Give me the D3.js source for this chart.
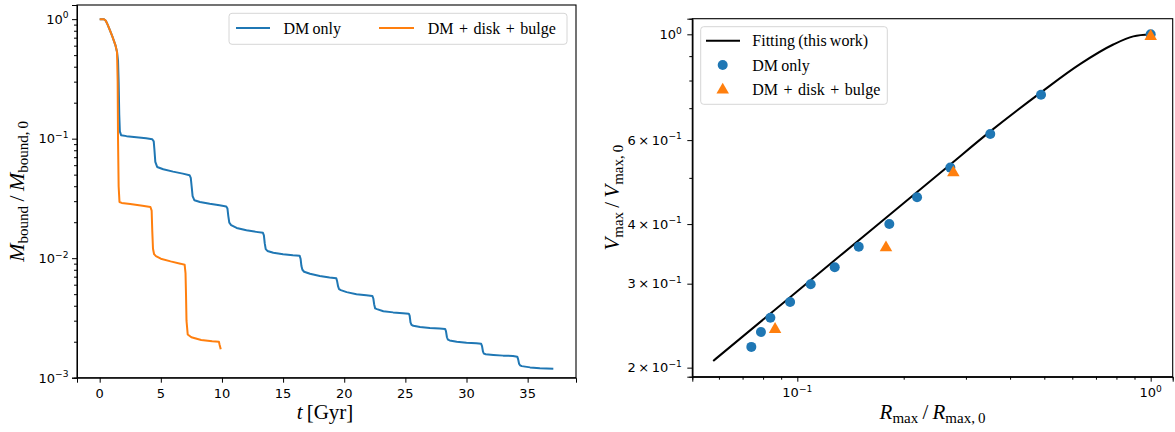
<!DOCTYPE html>
<html><head><meta charset="utf-8">
<script src="https://cdn.jsdelivr.net/npm/d3@7"></script>
<style>body{margin:0;background:#fff}svg{display:block}</style>
</head><body>
<script>
// ---------- DATA ----------
// Left panel: bound mass fraction vs time
const tDM = [0,0.35,0.5,0.65,0.85,1.05,1.3,1.42,1.5,1.55,1.6,1.65,1.75,2.2,3.0,3.8,4.3,4.42,4.48,4.55,4.7,5.2,6.0,6.8,7.35,7.45,7.52,7.6,7.75,8.2,9.0,9.8,10.35,10.45,10.52,10.6,10.75,11.2,12.0,12.8,13.35,13.43,13.5,13.58,13.72,14.2,15.0,15.8,16.35,16.43,16.5,16.58,16.72,17.2,18.0,18.8,19.35,19.42,19.5,19.58,19.72,20.2,21.0,21.8,22.3,22.38,22.45,22.53,22.68,23.2,24.0,24.8,25.28,25.35,25.42,25.5,25.65,26.2,27.0,27.8,28.25,28.32,28.4,28.48,28.62,29.2,30.0,30.8,31.2,31.27,31.35,31.42,31.57,32.2,33.0,33.8,34.15,34.22,34.3,34.38,34.52,35.2,36.0,37.1];
const mDM = [1,1,0.97,0.9,0.8,0.71,0.6,0.53,0.45,0.3,0.16,0.115,0.107,0.105,0.103,0.101,0.099,0.095,0.08,0.064,0.058,0.0555,0.053,0.051,0.0495,0.047,0.04,0.033,0.0305,0.0295,0.0285,0.0277,0.0271,0.026,0.0225,0.0198,0.0189,0.0179,0.0171,0.0166,0.0163,0.0155,0.0133,0.0119,0.0115,0.0111,0.0108,0.0106,0.0105,0.0099,0.0086,0.0080,0.0077,0.0074,0.0071,0.0069,0.0068,0.0064,0.0058,0.0055,0.0054,0.0052,0.0050,0.0049,0.00483,0.0046,0.0041,0.0038,0.00375,0.0036,0.00352,0.00346,0.00343,0.0033,0.0029,0.00277,0.00272,0.00266,0.00261,0.00258,0.00256,0.00245,0.00218,0.00208,0.00205,0.002,0.00196,0.00194,0.00192,0.00184,0.00165,0.00159,0.00157,0.00155,0.00153,0.00152,0.0015,0.00143,0.00131,0.00127,0.00125,0.00122,0.0012,0.00119];
const tBary = [0,0.35,0.5,0.65,0.85,1.05,1.3,1.42,1.47,1.5,1.55,1.62,1.8,2.5,3.5,4.15,4.25,4.3,4.36,4.45,4.6,5.0,5.8,6.6,6.95,7.02,7.06,7.1,7.2,7.5,8.3,9.2,9.75,9.8,9.86,9.9];
const mBary = [1,1,0.97,0.9,0.8,0.71,0.6,0.53,0.3,0.1,0.04,0.0295,0.029,0.0284,0.0275,0.0268,0.025,0.017,0.012,0.0108,0.0104,0.0099,0.0094,0.009,0.0088,0.0075,0.005,0.003,0.0023,0.00218,0.00207,0.00202,0.002,0.0019,0.0018,0.00173];
const leftXTicks = [0,5,10,15,20,25,30,35];
const leftYTicks = [1e-3,1e-2,1e-1,1];
const leftYExp = ["−3","−2","−1","0"];

// Right panel: Vmax vs Rmax tidal track
const rFit = [0.0578,0.1,0.1714,0.2647,0.3516,0.4894,0.631,0.7839,0.893,1.0];
const vFit = [0.2066,0.2892,0.4027,0.5258,0.6258,0.7557,0.866,0.952,0.99,1.0];
const rDM = [0.0741,0.0789,0.0839,0.0954,0.1091,0.1276,0.1492,0.1821,0.2182,0.2710,0.3516,0.4894,1.0];
const vDM = [0.2211,0.2376,0.2545,0.2746,0.2991,0.3247,0.3586,0.4003,0.4552,0.5254,0.6180,0.7469,1.0];
const rBary = [0.0865,0.1782,0.2764,1.0];
const vBary = [0.2418,0.3586,0.515,0.995];
const rightXTicks = [0.1,1];
const rightXExp = ["−1","0"];
const rightXMinor = [0.06,0.07,0.08,0.09,0.2,0.3,0.4,0.5,0.6,0.7,0.8,0.9];
const rightYTicks = [0.2,0.3,0.4,0.6,1];
const rightYMant = ["2","3","4","6",""];
const rightYExp = ["−1","−1","−1","−1","0"];
const rightYMinor = [0.5,0.7,0.8,0.9];

const blue = "#1f77b4", orange = "#ff7f0e";
const TICKFONT = "DejaVu Sans", SERIF = "Liberation Serif";

// ---------- SVG ----------
const W = 1175, H = 432;
const svg = d3.select("body").append("svg").attr("width", W).attr("height", H);
svg.append("rect").attr("width", W).attr("height", H).attr("fill", "#fff");

function label10(g, x, y, anchor, mant, exp, size) {
  const t = g.append("text").attr("x", x).attr("y", y).attr("text-anchor", anchor)
    .attr("font-family", TICKFONT).attr("font-size", size).attr("fill", "#000");
  if (mant) t.append("tspan").text(mant + "\u2009×\u2009");
  t.append("tspan").text("10");
  t.append("tspan").attr("dy", -0.42 * size).attr("font-size", size * 0.7).text(exp);
  return t;
}

// ===== Left panel =====
const L = {x0: 77, x1: 576, y0: 5, y1: 377.7};
const xL = d3.scaleLinear().domain([-1.855, 38.955]).range([L.x0, L.x1]);
const yL = d3.scaleLog().domain([1e-3, 1.3135]).range([L.y1, L.y0]);
const gL = svg.append("g");

const lineL = d3.line().x(d => xL(d[0])).y(d => yL(d[1]));
gL.append("path").datum(tDM.map((t, i) => [t, mDM[i]])).attr("d", lineL)
  .attr("fill", "none").attr("stroke", blue).attr("stroke-width", 2).attr("stroke-linejoin", "round");
gL.append("path").datum(tBary.map((t, i) => [t, mBary[i]])).attr("d", lineL)
  .attr("fill", "none").attr("stroke", orange).attr("stroke-width", 2).attr("stroke-linejoin", "round");

// axes
gL.append("g").attr("transform", `translate(0,${L.y1})`)
  .call(d3.axisBottom(xL).tickValues(leftXTicks).tickSize(5).tickFormat(""));
const leftYMinor = [];
[1e-3, 1e-2, 1e-1].forEach(d => { for (let k = 2; k <= 9; k++) leftYMinor.push(d * k); });
gL.append("g").attr("transform", `translate(${L.x0},0)`)
  .call(d3.axisLeft(yL).tickValues(leftYTicks).tickSize(5).tickFormat(""));
gL.append("g").attr("transform", `translate(${L.x0},0)`)
  .call(d3.axisLeft(yL).tickValues(leftYMinor).tickSize(3).tickFormat(""));
leftXTicks.forEach(v => {
  gL.append("text").attr("x", xL(v)).attr("y", L.y1 + 20.5).attr("text-anchor", "middle")
    .attr("font-family", TICKFONT).attr("font-size", 13).attr("fill", "#000").text(v);
});
leftYTicks.forEach((v, i) => label10(gL, L.x0 - 8.5, yL(v) + 4.8, "end", "", leftYExp[i], 13));
gL.append("rect").attr("x", L.x0).attr("y", L.y0).attr("width", L.x1 - L.x0).attr("height", L.y1 - L.y0)
  .attr("fill", "none").attr("stroke", "#000").attr("stroke-width", 1.1);

// axis labels
{
  const t = gL.append("text").attr("x", 325).attr("y", 419).attr("text-anchor", "middle").attr("font-family", SERIF)
    .attr("font-size", 21).attr("fill", "#000");
  t.append("tspan").attr("font-style", "italic").text("t");
  t.append("tspan").text("\u2009[Gyr]");
  const yl = gL.append("text").attr("transform", `translate(24,${(L.y0 + L.y1) / 2}) rotate(-90)`)
    .attr("text-anchor", "middle").attr("font-family", SERIF).attr("font-size", 22).attr("fill", "#000");
  yl.append("tspan").attr("font-style", "italic").text("M");
  yl.append("tspan").attr("font-size", 15).attr("dy", 4).text("bound");
  yl.append("tspan").attr("dy", -4).text("\u2009/\u2009");
  yl.append("tspan").attr("font-style", "italic").text("M");
  yl.append("tspan").attr("font-size", 15).attr("dy", 4).text("bound,\u20090");
}

// legend left
{
  const lg = gL.append("g");
  lg.append("rect").attr("x", 229).attr("y", 13.3).attr("width", 338).attr("height", 31).attr("rx", 3)
    .attr("fill", "#fff").attr("fill-opacity", 0.8).attr("stroke", "#d6d6d6").attr("stroke-width", 1);
  lg.append("line").attr("x1", 236).attr("x2", 270).attr("y1", 28).attr("y2", 28).attr("stroke", blue).attr("stroke-width", 2);
  lg.append("line").attr("x1", 379).attr("x2", 414).attr("y1", 28).attr("y2", 28).attr("stroke", orange).attr("stroke-width", 2);
  lg.append("text").attr("x", 283.5).attr("y", 33.5).attr("font-family", SERIF).attr("font-size", 16).attr("fill", "#000").text("DM\u2009only");
  lg.append("text").attr("x", 427.7).attr("y", 33.5).attr("font-family", SERIF).attr("font-size", 16).attr("fill", "#000")
    .attr("word-spacing", 1.5).text("DM + disk + bulge");
}

// ===== Right panel =====
const R = {x0: 692.3, x1: 1172.7, y0: 18.7, y1: 376.7};
const xR = d3.scaleLog().domain([0.05044, 1.1543]).range([R.x0, R.x1]);
const yR = d3.scaleLog().domain([0.19145, 1.0783]).range([R.y1, R.y0]);
const gR = svg.append("g");

const lineR = d3.line().x(d => xR(d[0])).y(d => yR(d[1])).curve(d3.curveMonotoneX);
gR.append("path").datum(rFit.map((r, i) => [r, vFit[i]])).attr("d", lineR)
  .attr("fill", "none").attr("stroke", "#000").attr("stroke-width", 2);
gR.selectAll("circle.dm").data(rDM.map((r, i) => [r, vDM[i]])).enter().append("circle")
  .attr("cx", d => xR(d[0])).attr("cy", d => yR(d[1])).attr("r", 5).attr("fill", blue);
const tri = d3.symbol().type(d3.symbolTriangle).size(68);
gR.selectAll("path.bary").data(rBary.map((r, i) => [r, vBary[i]])).enter().append("path")
  .attr("d", tri).attr("transform", d => `translate(${xR(d[0])},${yR(d[1]) + 1})`).attr("fill", orange);

gR.append("g").attr("transform", `translate(0,${R.y1})`)
  .call(d3.axisBottom(xR).tickValues(rightXTicks).tickSize(5).tickFormat(""));
gR.append("g").attr("transform", `translate(0,${R.y1})`)
  .call(d3.axisBottom(xR).tickValues(rightXMinor).tickSize(3).tickFormat(""));
gR.append("g").attr("transform", `translate(${R.x0},0)`)
  .call(d3.axisLeft(yR).tickValues(rightYTicks).tickSize(5).tickFormat(""));
gR.append("g").attr("transform", `translate(${R.x0},0)`)
  .call(d3.axisLeft(yR).tickValues(rightYMinor).tickSize(3).tickFormat(""));
rightXTicks.forEach((v, i) => label10(gR, xR(v), R.y1 + 20.5, "middle", "", rightXExp[i], 13));
rightYTicks.forEach((v, i) => label10(gR, R.x0 - 10.5, yR(v) + 4.8, "end", rightYMant[i], rightYExp[i], 13));
gR.append("rect").attr("x", R.x0).attr("y", R.y0).attr("width", R.x1 - R.x0).attr("height", R.y1 - R.y0)
  .attr("fill", "none").attr("stroke", "#000").attr("stroke-width", 1.1);

{
  const xl = gR.append("text").attr("x", (R.x0 + R.x1) / 2).attr("y", 419).attr("text-anchor", "middle")
    .attr("font-family", SERIF).attr("font-size", 21).attr("fill", "#000");
  xl.append("tspan").attr("font-style", "italic").text("R");
  xl.append("tspan").attr("font-size", 15).attr("dy", 4).text("max");
  xl.append("tspan").attr("dy", -4).text("\u2009/\u2009");
  xl.append("tspan").attr("font-style", "italic").text("R");
  xl.append("tspan").attr("font-size", 15).attr("dy", 4).text("max,\u20090");
  const yl = gR.append("text").attr("transform", `translate(619,${(R.y0 + R.y1) / 2}) rotate(-90)`)
    .attr("text-anchor", "middle").attr("font-family", SERIF).attr("font-size", 21).attr("fill", "#000");
  yl.append("tspan").attr("font-style", "italic").text("V");
  yl.append("tspan").attr("font-size", 15).attr("dy", 4).text("max");
  yl.append("tspan").attr("dy", -4).text("\u2009/\u2009");
  yl.append("tspan").attr("font-style", "italic").text("V");
  yl.append("tspan").attr("font-size", 15).attr("dy", 4).text("max,\u20090");
}

// legend right
{
  const lg = gR.append("g");
  lg.append("rect").attr("x", 700.7).attr("y", 26.7).attr("width", 186.6).attr("height", 77.6).attr("rx", 3)
    .attr("fill", "#fff").attr("fill-opacity", 0.8).attr("stroke", "#d6d6d6").attr("stroke-width", 1);
  lg.append("line").attr("x1", 706).attr("x2", 740).attr("y1", 40.7).attr("y2", 40.7).attr("stroke", "#000").attr("stroke-width", 2);
  lg.append("circle").attr("cx", 722.7).attr("cy", 65).attr("r", 5).attr("fill", blue);
  lg.append("path").attr("d", tri).attr("transform", "translate(722.7,90)").attr("fill", orange);
  const labs = ["Fitting\u2009(this\u2009work)", "DM\u2009only", "DM + disk + bulge"];
  [40.7, 65, 89.3].forEach((y, i) => lg.append("text").attr("x", 752.3).attr("y", y + 5.5)
    .attr("font-family", SERIF).attr("font-size", 16).attr("fill", "#000")
    .attr("word-spacing", i === 1 ? 0 : 1.5).text(labs[i]));
}
</script>
</body></html>
